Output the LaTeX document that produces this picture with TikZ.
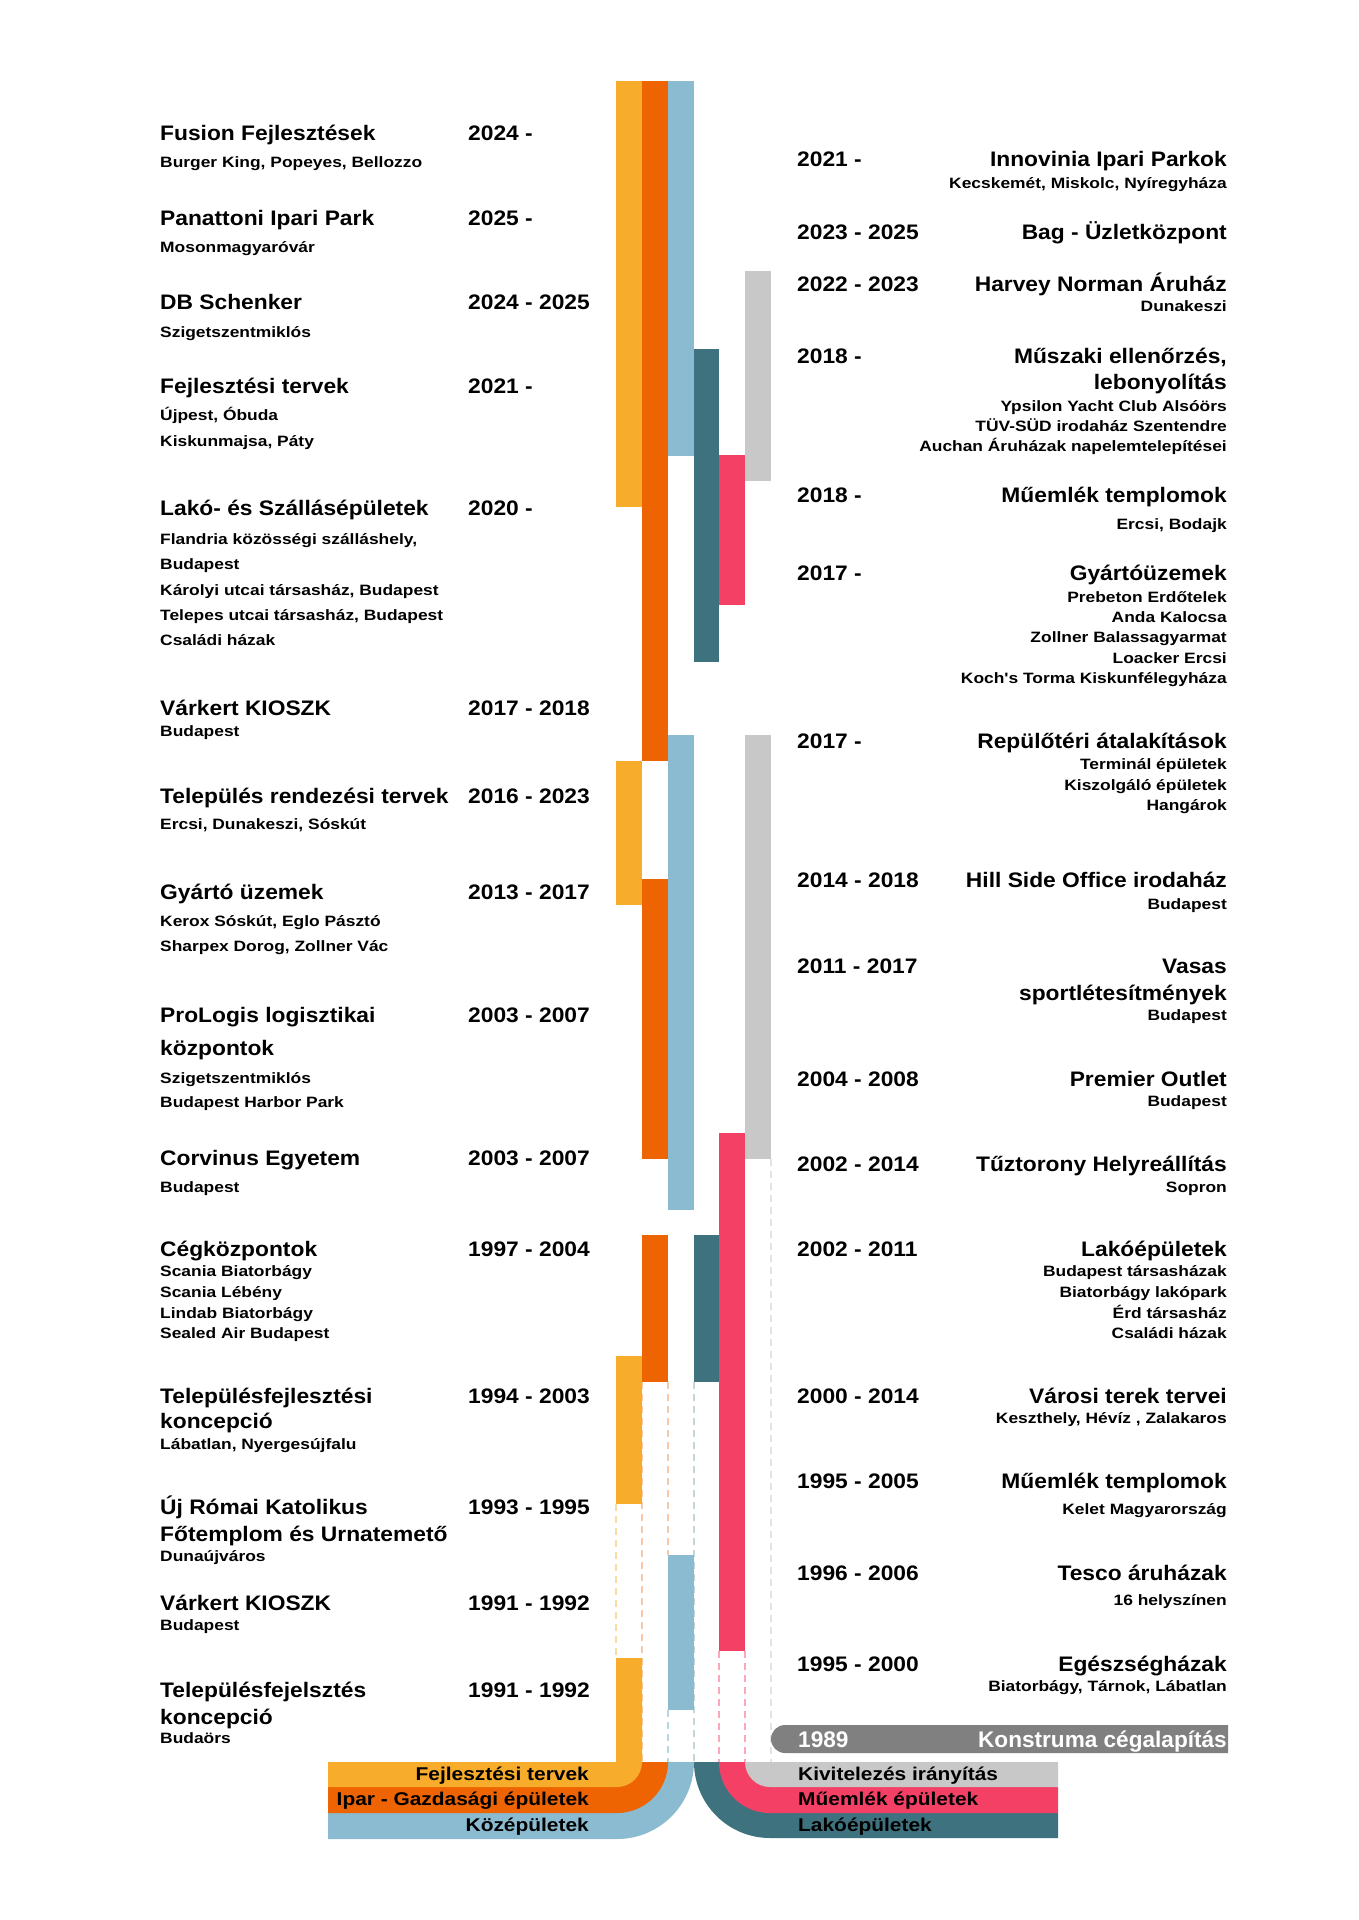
\documentclass[tikz,border=0pt]{standalone}
\usepackage{fontspec}
\setmainfont{Liberation Sans}
\newfontfamily\ttlf[FakeStretch=1.085]{Liberation Sans}
\newfontfamily\subf[FakeStretch=1.16]{Liberation Sans}
\newfontfamily\lgf[FakeStretch=1.13]{Liberation Sans}
\definecolor{cy}{HTML}{F8AC2C}
\definecolor{co}{HTML}{EE6402}
\definecolor{cb}{HTML}{8ABBD1}
\definecolor{ct}{HTML}{3F727F}
\definecolor{cr}{HTML}{F44064}
\definecolor{cg}{HTML}{C8C8C8}
\definecolor{cd}{HTML}{808080}
\tikzset{
  ttl/.style={inner sep=0pt, font=\ttlf\bfseries\fontsize{21}{24}\selectfont},
  sub/.style={inner sep=0pt, font=\subf\bfseries\fontsize{15}{17}\selectfont},
  lg/.style={inner sep=0pt, font=\lgf\bfseries\fontsize{18.5}{20}\selectfont},
  bartxt/.style={inner sep=0pt, text=white, font=\bfseries\fontsize{22.6}{24}\selectfont},
  dsh/.style={line width=1.3pt, dash pattern=on 7pt off 5pt}
}
\newcommand\kLt[3]{\node[ttl,anchor=base west] (#1) at (160,#2) {#3};}
\newcommand\kLs[3]{\node[sub,anchor=base west] (#1) at (160,#2) {#3};}
\newcommand\kLy[3]{\node[ttl,anchor=base west] (#1) at (468,#2) {#3};}
\newcommand\kRt[3]{\node[ttl,anchor=base east] (#1) at (1227,#2) {#3};}
\newcommand\kRs[3]{\node[sub,anchor=base east] (#1) at (1227,#2) {#3};}
\newcommand\kRy[3]{\node[ttl,anchor=base west] (#1) at (797,#2) {#3};}
\begin{document}
\begin{tikzpicture}[x=1pt,y=-1pt]
\fill[white] (0,0) rectangle (1358,1920);
\useasboundingbox (0,0) rectangle (1358,1920);
% dashed guide lines
\draw[dsh,cy!45] (616,1504) -- (616,1658);
\draw[dsh,co!35] (642,1382) -- (642,1762);
\draw[dsh,co!35] (668,1382) -- (668,1555);
\draw[dsh,cb!60] (668,1710) -- (668,1762);
\draw[dsh,ct!30] (694,1382) -- (694,1762);
\draw[dsh,cr!45] (719,1651) -- (719,1762);
\draw[dsh,cr!45] (745,1651) -- (745,1762);
\draw[dsh,cg!50] (771,1159) -- (771,1762);
% bars
\fill[cy] (616,81) rectangle (642,507);
\fill[cy] (616,761) rectangle (642,905);
\fill[cy] (616,1356) rectangle (642,1504);
\fill[co] (642,81) rectangle (668,761);
\fill[co] (642,879) rectangle (668,1159);
\fill[co] (642,1235) rectangle (668,1382);
\fill[cb] (668,81) rectangle (694,456);
\fill[cb] (668,735) rectangle (694,1210);
\fill[cb] (668,1555) rectangle (694,1710);
\fill[ct] (694,349) rectangle (719,662);
\fill[ct] (694,1235) rectangle (719,1382);
\fill[cr] (719,455) rectangle (745,605);
\fill[cr] (719,1133) rectangle (745,1651);
\fill[cg] (745,271) rectangle (771,481);
\fill[cg] (745,735) rectangle (771,1159);
% legend bands left
\fill[cb] (328,1813) -- (617,1813) -- (617,1762) -- (694,1762) arc[start angle=0,end angle=-90,radius=77pt] -- (328,1839) -- cycle;
\fill[co] (328,1787) -- (617,1787) -- (617,1762) -- (668,1762) arc[start angle=0,end angle=-90,radius=51pt] -- (328,1813) -- cycle;
\fill[cy] (328,1762) -- (616,1762) -- (616,1658) -- (642,1658) -- (642,1762) arc[start angle=0,end angle=-90,radius=25pt] -- (328,1787) -- cycle;
% legend bands right
\fill[ct] (1058,1813) -- (770,1813) -- (770,1762) -- (694,1762) arc[start angle=180,end angle=270,radius=76pt] -- (1058,1838) -- cycle;
\fill[cr] (1058,1787) -- (770,1787) -- (770,1762) -- (719,1762) arc[start angle=180,end angle=270,radius=51pt] -- (1058,1813) -- cycle;
\fill[cg] (1058,1762) -- (745,1762) arc[start angle=180,end angle=270,radius=25pt] -- (1058,1787) -- cycle;
\node[lg,anchor=base east] (lgy) at (589,1780) {Fejlesztési tervek};
\node[lg,anchor=base east] (lgo) at (589,1805) {Ipar - Gazdasági épületek};
\node[lg,anchor=base east] (lgb) at (589,1831) {Középületek};
\node[lg,anchor=base west] (lgg) at (798,1780) {Kivitelezés irányítás};
\node[lg,anchor=base west] (lgr) at (798,1805) {Műemlék épületek};
\node[lg,anchor=base west] (lgt) at (798,1831) {Lakóépületek};
% 1989 bar
\fill[cd] (1228,1725) -- (785,1725) arc[start angle=90,end angle=270,radius=14pt] -- (1228,1753) -- cycle;
\node[bartxt,anchor=base west] (y1989) at (798,1747) {1989};
\node[bartxt,anchor=base east] (t1989) at (1227,1747) {Konstruma cégalapítás};
% left column
\kLt{a1}{140.7}{Fusion Fejlesztések}\kLy{a1y}{140.7}{2024 -}
\kLs{a1s}{167.7}{Burger King, Popeyes, Bellozzo}
\kLt{a2}{225}{Panattoni Ipari Park}\kLy{a2y}{225}{2025 -}
\kLs{a2s}{252.7}{Mosonmagyaróvár}
\kLt{a3}{309}{DB Schenker}\kLy{a3y}{309}{2024 - 2025}
\kLs{a3s}{337}{Szigetszentmiklós}
\kLt{a4}{393.5}{Fejlesztési tervek}\kLy{a4y}{393.5}{2021 -}
\kLs{a4s}{420}{Újpest, Óbuda}
\kLs{a4t}{446}{Kiskunmajsa, Páty}
\kLt{a5}{515.7}{Lakó- és Szállásépületek}\kLy{a5y}{515.7}{2020 -}
\kLs{a5s}{544}{Flandria közösségi szálláshely,}
\kLs{a5t}{569}{Budapest}
\kLs{a5u}{595}{Károlyi utcai társasház, Budapest}
\kLs{a5v}{620}{Telepes utcai társasház, Budapest}
\kLs{a5w}{645.7}{Családi házak}
\kLt{a6}{715}{Várkert KIOSZK}\kLy{a6y}{715}{2017 - 2018}
\kLs{a6s}{736}{Budapest}
\kLt{a7}{803}{Település rendezési tervek}\kLy{a7y}{803}{2016 - 2023}
\kLs{a7s}{829}{Ercsi, Dunakeszi, Sóskút}
\kLt{a8}{899}{Gyártó üzemek}\kLy{a8y}{899}{2013 - 2017}
\kLs{a8s}{926}{Kerox Sóskút, Eglo Pásztó}
\kLs{a8t}{951.5}{Sharpex Dorog, Zollner Vác}
\kLt{a9}{1022}{ProLogis logisztikai}\kLy{a9y}{1022}{2003 - 2007}
\kLt{a9b}{1055}{központok}
\kLs{a9s}{1083}{Szigetszentmiklós}
\kLs{a9t}{1107}{Budapest Harbor Park}
\kLt{a10}{1165}{Corvinus Egyetem}\kLy{a10y}{1165}{2003 - 2007}
\kLs{a10s}{1192}{Budapest}
\kLt{a11}{1256}{Cégközpontok}\kLy{a11y}{1256}{1997 - 2004}
\kLs{a11s}{1276}{Scania Biatorbágy}
\kLs{a11t}{1297}{Scania Lébény}
\kLs{a11u}{1318}{Lindab Biatorbágy}
\kLs{a11v}{1338.5}{Sealed Air Budapest}
\kLt{a12}{1403}{Településfejlesztési}\kLy{a12y}{1403}{1994 - 2003}
\kLt{a12b}{1428}{koncepció}
\kLs{a12s}{1449}{Lábatlan, Nyergesújfalu}
\kLt{a13}{1514}{Új Római Katolikus}\kLy{a13y}{1514}{1993 - 1995}
\kLt{a13b}{1541}{Főtemplom és Urnatemető}
\kLs{a13s}{1561}{Dunaújváros}
\kLt{a14}{1610}{Várkert KIOSZK}\kLy{a14y}{1610}{1991 - 1992}
\kLs{a14s}{1630}{Budapest}
\kLt{a15}{1697}{Településfejelsztés}\kLy{a15y}{1697}{1991 - 1992}
\kLt{a15b}{1724}{koncepció}
\kLs{a15s}{1743}{Budaörs}
% right column
\kRy{b1y}{166.7}{2021 -}\kRt{b1}{166.7}{Innovinia Ipari Parkok}
\kRs{b1s}{188}{Kecskemét, Miskolc, Nyíregyháza}
\kRy{b2y}{239}{2023 - 2025}\kRt{b2}{239}{Bag - Üzletközpont}
\kRy{b3y}{291.7}{2022 - 2023}\kRt{b3}{291.7}{Harvey Norman Áruház}
\kRs{b3s}{311.7}{Dunakeszi}
\kRy{b4y}{363}{2018 -}\kRt{b4}{363}{Műszaki ellenőrzés,}
\kRt{b4b}{389}{lebonyolítás}
\kRs{b4s}{411.7}{Ypsilon Yacht Club Alsóörs}
\kRs{b4t}{431.7}{TÜV-SÜD irodaház Szentendre}
\kRs{b4u}{451.7}{Auchan Áruházak napelemtelepítései}
\kRy{b5y}{502}{2018 -}\kRt{b5}{502}{Műemlék templomok}
\kRs{b5s}{529}{Ercsi, Bodajk}
\kRy{b6y}{580}{2017 -}\kRt{b6}{580}{Gyártóüzemek}
\kRs{b6s}{602}{Prebeton Erdőtelek}
\kRs{b6t}{622.7}{Anda Kalocsa}
\kRs{b6u}{642.7}{Zollner Balassagyarmat}
\kRs{b6v}{663}{Loacker Ercsi}
\kRs{b6w}{683}{Koch's Torma Kiskunfélegyháza}
\kRy{b7y}{748}{2017 -}\kRt{b7}{748}{Repülőtéri átalakítások}
\kRs{b7s}{769}{Terminál épületek}
\kRs{b7t}{790}{Kiszolgáló épületek}
\kRs{b7u}{810}{Hangárok}
\kRy{b8y}{887}{2014 - 2018}\kRt{b8}{887}{Hill Side Office irodaház}
\kRs{b8s}{909}{Budapest}
\kRy{b9y}{973}{2011 - 2017}\kRt{b9}{973}{Vasas}
\kRt{b9b}{1000}{sportlétesítmények}
\kRs{b9s}{1020}{Budapest}
\kRy{b10y}{1086}{2004 - 2008}\kRt{b10}{1086}{Premier Outlet}
\kRs{b10s}{1106}{Budapest}
\kRy{b11y}{1171}{2002 - 2014}\kRt{b11}{1171}{Tűztorony Helyreállítás}
\kRs{b11s}{1192}{Sopron}
\kRy{b12y}{1256}{2002 - 2011}\kRt{b12}{1256}{Lakóépületek}
\kRs{b12s}{1276}{Budapest társasházak}
\kRs{b12t}{1297}{Biatorbágy lakópark}
\kRs{b12u}{1318}{Érd társasház}
\kRs{b12v}{1338.5}{Családi házak}
\kRy{b13y}{1403}{2000 - 2014}\kRt{b13}{1403}{Városi terek tervei}
\kRs{b13s}{1423}{Keszthely, Hévíz , Zalakaros}
\kRy{b14y}{1488}{1995 - 2005}\kRt{b14}{1488}{Műemlék templomok}
\kRs{b14s}{1514}{Kelet Magyarország}
\kRy{b15y}{1580}{1996 - 2006}\kRt{b15}{1580}{Tesco áruházak}
\kRs{b15s}{1605}{16 helyszínen}
\kRy{b16y}{1671}{1995 - 2000}\kRt{b16}{1671}{Egészségházak}
\kRs{b16s}{1691}{Biatorbágy, Tárnok, Lábatlan}
\end{tikzpicture}
\end{document}
